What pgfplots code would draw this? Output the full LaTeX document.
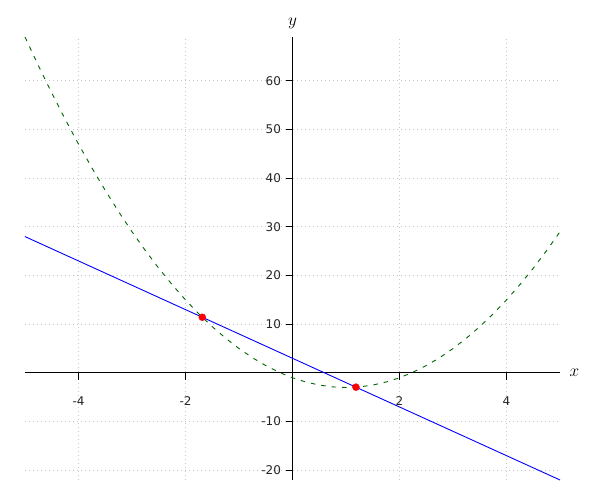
\documentclass[border=0pt]{standalone}
\usepackage{pgfplots}
\pgfplotsset{compat=1.18}
\usepackage{fontspec}
\setmainfont{DejaVu Sans}
\begin{document}
\begin{tikzpicture}[x=1pt,y=1pt]
\path[use as bounding box] (0,0) rectangle (600,500);
\begin{axis}[
  at={(25pt,20pt)}, anchor=south west,
  scale only axis, width=535pt, height=443pt,
  xmin=-5, xmax=5, ymin=-22, ymax=69,
  axis lines=middle,
  axis line style={black, line width=1pt, -},
  tick align=outside,
  major tick length=7pt,
  tick style={black, line width=0.9pt},
  xtick={-4,-2,2,4}, xticklabels={-4,-2,2,4},
  ytick={-20,-10,10,20,30,40,50,60}, yticklabels={-20,-10,10,20,30,40,50,60},
  xticklabel style={font=\fontsize{12}{14}\selectfont, text=black!85, anchor=north, yshift=-13pt},
  yticklabel style={font=\fontsize{12}{14}\selectfont, text=black!85, anchor=east, xshift=-1pt},
  grid=major,
  major grid style={gray!45, line width=0.8pt, dash pattern=on 1pt off 3pt},
  xlabel={$x$}, ylabel={$y$},
  xlabel style={at={(axis cs:5,0)}, anchor=west, xshift=6pt, font=\fontsize{17}{19}\selectfont},
  ylabel style={at={(axis cs:0,69)}, anchor=south, yshift=5pt, font=\fontsize{17}{19}\selectfont},
  clip=false,
]
\addplot[color={rgb,255:red,0;green,100;blue,0}, line width=0.9pt, dash pattern=on 4.5pt off 6pt] coordinates {
(-5,69) (-4.75,63.125) (-4.5,57.5) (-4.25,52.125) (-4,47) (-3.75,42.125) (-3.5,37.5) (-3.25,33.125)
(-3,29) (-2.75,25.125) (-2.5,21.5) (-2.25,18.125) (-2,15) (-1.75,12.125) (-1.5,9.5) (-1.25,7.125)
(-1,5) (-0.75,3.125) (-0.5,1.5) (-0.25,0.125) (0,-1) (0.25,-1.875) (0.5,-2.5) (0.75,-2.875)
(1,-3) (1.25,-2.875) (1.5,-2.5) (1.75,-1.875) (2,-1) (2.25,0.125) (2.5,1.5) (2.75,3.125)
(3,5) (3.25,7.125) (3.5,9.5) (3.75,12.125) (4,15) (4.25,18.125) (4.5,21.5) (4.75,25.125) (5,29)
};
\addplot[blue, line width=0.9pt] coordinates {(-5,28) (5,-22)};
\addplot[only marks, mark=*, mark size=3.5pt, red, mark options={draw=red, fill=red}] coordinates {(-1.686,11.43) (1.186,-2.93)};
\end{axis}
\end{tikzpicture}
\end{document}
